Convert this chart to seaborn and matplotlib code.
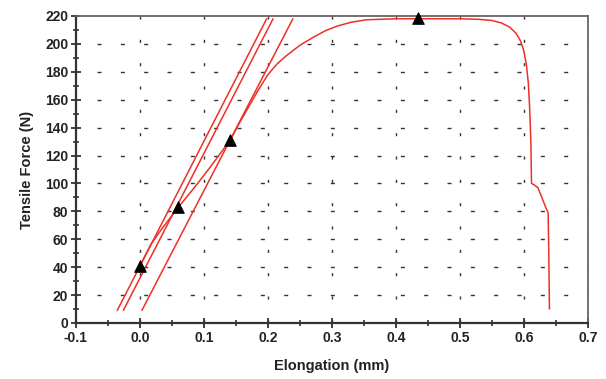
import seaborn as sns
import matplotlib.pyplot as plt
import numpy as np
import pandas as pd

# measured curve: elongation (mm) vs tensile force (N)
elong = [0.0, 0.010, 0.018, 0.035, 0.060, 0.085, 0.107, 0.141, 0.155, 0.170,
         0.185, 0.200, 0.215, 0.230, 0.250, 0.270, 0.290, 0.310, 0.330, 0.354,
         0.400, 0.450, 0.500, 0.530, 0.550, 0.565, 0.578, 0.588, 0.595, 0.600,
         0.604, 0.607, 0.609, 0.611, 0.612, 0.616, 0.622, 0.635, 0.638, 0.639,
         0.640]
force = [41, 50, 57, 68, 83, 97, 110, 131, 143, 155,
         167, 178, 186, 192, 199, 204.5, 209.5, 213, 215.5, 217.3,
         218, 218, 218, 217.6, 216.8, 215, 212, 207.5, 202, 195,
         185, 172, 155, 130, 100, 99,
         97, 82, 79, 50, 10]

# straight offset lines (start / end points)
line_x = [[-0.0355, 0.198], [-0.026, 0.208], [0.003, 0.239]]
line_y = [[9, 218], [9, 218], [9, 218]]

# marked points
mark_x = [0.0, 0.06, 0.141, 0.435]
mark_y = [41, 83, 131, 218.5]

red = '#ee2f28'

sns.set_theme(style="white")
plt.rcParams['font.family'] = ['Liberation Sans', 'DejaVu Sans']

fig = plt.figure(figsize=(6.06, 3.79), dpi=100)
ax = fig.add_axes([0.1254, 0.1478, 0.8446, 0.8100])

# dashed grid
for yv in range(20, 220, 20):
    ax.plot([-0.1 + 21 / 640, 0.7], [yv, yv], color='#333333', lw=1.0,
            linestyle=(0, (2.9, 13.9)), zorder=1)
for xv in np.arange(0.0, 0.65, 0.1):
    ax.plot([xv, xv], [220, 0], color='#333333', lw=1.0,
            linestyle=(0, (2.2, 14.6)), zorder=1)

# curves
df = pd.DataFrame({'x': elong, 'y': force})
sns.lineplot(data=df, x='x', y='y', sort=False, estimator=None,
             color=red, lw=1.1, ax=ax, zorder=3)
for lx, ly in zip(line_x, line_y):
    sns.lineplot(x=lx, y=ly, sort=False, estimator=None,
                 color=red, lw=1.1, ax=ax, zorder=3)

sns.scatterplot(x=mark_x, y=mark_y, marker='^', s=70, color='black',
                edgecolor='black', ax=ax, zorder=5, clip_on=False)

ax.set_xlim(-0.1, 0.7)
ax.set_ylim(0, 220)
ax.set_xticks(np.arange(-0.1, 0.71, 0.1))
ax.set_xticklabels(['-0.1', '0.0', '0.1', '0.2', '0.3', '0.4', '0.5', '0.6', '0.7'])
ax.set_xticks(np.arange(-0.05, 0.7, 0.1), minor=True)
ax.set_yticks(np.arange(0, 221, 20))
ax.set_yticks(np.arange(10, 220, 20), minor=True)

ax.tick_params(axis='both', which='major', direction='inout', length=7,
               width=1.3, color='#333333', labelsize=10, pad=2)
ax.tick_params(axis='both', which='minor', direction='inout', length=5,
               width=1.2, color='#333333')
ax.tick_params(axis='x', which='both', bottom=True, top=False)
ax.tick_params(axis='y', which='both', left=True, right=False)
for lab in ax.get_xticklabels() + ax.get_yticklabels():
    lab.set_fontweight('bold')
    lab.set_color('#222222')

for side in ['left', 'bottom']:
    ax.spines[side].set_color('#333333')
    ax.spines[side].set_linewidth(1.6)
for side in ['top', 'right']:
    ax.spines[side].set_color('#666666')
    ax.spines[side].set_linewidth(1.3)

ax.set_xlabel('Elongation (mm)', fontsize=10.5, fontweight='bold',
              color='#222222', labelpad=10)
ax.set_ylabel('Tensile Force (N)', fontsize=10.5, fontweight='bold',
              color='#222222', labelpad=8)

fig.savefig('out.png', dpi=100)
